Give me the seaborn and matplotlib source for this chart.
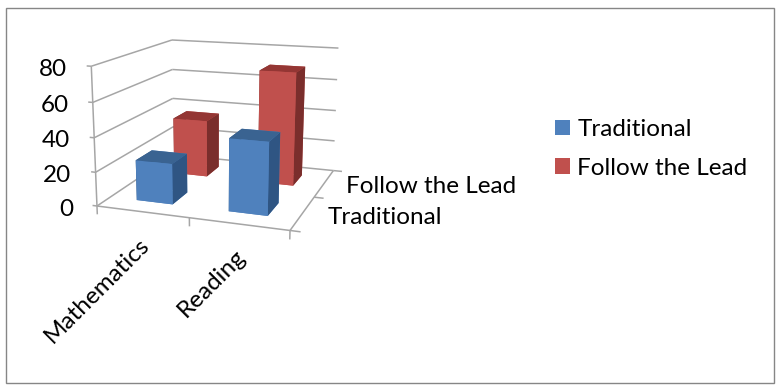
import numpy as np
import pandas as pd
import matplotlib
matplotlib.use("Agg")
import matplotlib.pyplot as plt
from matplotlib.patches import Patch, Rectangle
from mpl_toolkits.mplot3d import proj3d
from mpl_toolkits.mplot3d.art3d import Line3DCollection
import seaborn as sns

categories = ["Mathematics", "Reading"]
series = ["Traditional", "Follow the Lead"]
traditional = [24, 42]
follow_the_lead = [36, 70]
z_ticks = [0, 20, 40, 60, 80]

# colours per series: front, top, side
front_colors = ["#4F81BD", "#C0504D"]
top_colors = ["#3A6391", "#943634"]
side_colors = ["#2F5583", "#7A2E2C"]

# pinhole camera taking (x, y, z, 1) to homogeneous figure pixels
CAMERA = np.array([
    [81.64, 56.1315, -0.119416, 162.399],
    [-17.9741, 50.4997, 1.50561, 190.802],
    [-0.0394513, 0.110779, -0.000559111, 1.0],
])

sns.set_theme(style="white")
plt.rcParams["font.family"] = ["Lato", "DejaVu Sans"]
FONT = 17.5

df = pd.DataFrame({
    "category": categories * 2,
    "series": np.repeat(series, 2),
    "score": traditional + follow_the_lead,
})

W, H = 779, 387
fig = plt.figure(figsize=(W / 100, H / 100), dpi=100, facecolor="white")
fig.patches.append(Rectangle((6 / W, 1 - 383 / H), 768 / W, 375 / H, transform=fig.transFigure,
                             fill=False, edgecolor="#868686", linewidth=1.0))

# a square axes wide enough to cover the whole figure, so nothing is clipped
ax = fig.add_axes([0, 0.5 - 0.5 * W / H, 1, W / H], projection="3d")
ax.patch.set_alpha(0)
ax.set_xlim(-0.5, 1.5)
ax.set_ylim(-0.5, 1.5)
ax.set_zlim(0, 80)
ax.set_axis_off()
ax.computed_zorder = False

# express the camera in the axes' view coordinates and use it as the projection
ax.apply_aspect()
view = np.linalg.inv(ax.transData.get_matrix()) @ CAMERA
projection = np.vstack([view[0], view[1], view[2] - [0, 0, 0, 0.5], view[2]])
ax.get_proj = lambda: projection

x0, x1, y0, y1 = -0.5, 1.5, -0.5, 1.5


def label_at(x, y, z, text, dx, dy, **kwargs):
    """Place a 2D label at a pixel offset from a projected data point."""
    px, py, _ = proj3d.proj_transform(x, y, z, projection)
    ax.annotate(text, xy=(px, py), xytext=(dx, dy), textcoords="offset pixels",
                fontsize=FONT, color="black", annotation_clip=False, **kwargs)


segments = []

# walls with their gridlines
for z in z_ticks:
    segments.append([(x0, y0, z), (x0, y1, z)])
    segments.append([(x0, y1, z), (x1, y1, z)])
    segments.append([(x0 - 0.05, y0, z), (x0, y0, z)])
    label_at(x0, y0, z, str(z), -24, -3, ha="right", va="center")
segments.append([(x0, y0, 0), (x0, y0, 80)])

# floor edges and their tick marks
segments.append([(x0, y0, 0), (x1, y0, 0)])
segments.append([(x1, y0, 0), (x1, y1, 0)])
for x in [x0, 0.5, x1]:
    segments.append([(x, y0, 0), (x, y0, -5)])
for y in [y0, 0.5, y1]:
    segments.append([(x1, y, 0), (x1 + 0.1, y, 0)])

ax.add_collection3d(Line3DCollection(segments, colors="#A6A6A6", linewidths=1.1, zorder=1))

# category and series labels
for i, label in enumerate(categories):
    label_at(i, y0, 0, label, -4, -22, rotation=45, rotation_mode="anchor", ha="right", va="top")
for j, (label, dx, dy) in enumerate(zip(series, (25, 22), (-5, -3))):
    label_at(x1, j, 0, label, dx, dy, ha="left", va="center")

# rear series first so the nearer bars overlap it
bar_w = 0.4
order = 2
for j, name in reversed(list(enumerate(series))):
    rows = df[df["series"] == name]
    for i, category in enumerate(categories):
        value = rows.loc[rows["category"] == category, "score"].iloc[0]
        face_colors = [front_colors[j], top_colors[j], front_colors[j],
                       front_colors[j], side_colors[j], side_colors[j]]
        ax.bar3d(i - bar_w / 2, j - bar_w / 2, 0, bar_w, bar_w, value,
                 color=face_colors, shade=False, zorder=order,
                 edgecolor="none", linewidth=0)
        order += 1

handles = [Patch(facecolor=c, edgecolor="none", label=s) for c, s in zip(front_colors, series)]
fig.legend(handles=handles, loc="center left", bbox_to_anchor=(555 / W, 1 - 149 / H),
           frameon=False, fontsize=FONT, labelcolor="black", handlelength=0.62, handleheight=0.62,
           handletextpad=0.3, labelspacing=0.73, borderpad=0, borderaxespad=0)

fig.savefig("out.png", dpi=100)
